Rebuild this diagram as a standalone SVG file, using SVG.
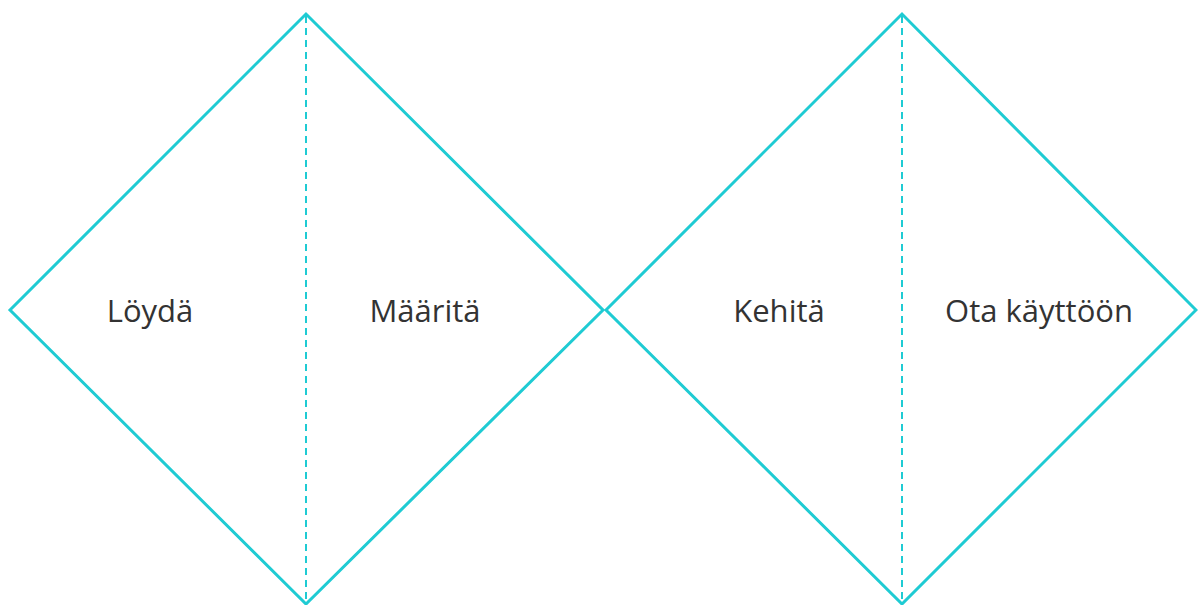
<svg xmlns="http://www.w3.org/2000/svg" width="1198" height="605" viewBox="0 0 1198 605">
<style>
.d{fill:none;stroke:#1fcbd3;stroke-width:3;stroke-linejoin:miter}
.m{stroke:#1fcbd3;stroke-width:2;stroke-dasharray:7 5}
.t{font-family:"Open Sans",sans-serif;font-size:31px;fill:#333;text-anchor:middle}
</style>
<rect width="1198" height="605" fill="#fff"/>
<g id="diamond1">
<polygon class="d" points="10,310 306,14 603,310 306,604"/>
<line class="m" x1="306" y1="16" x2="306" y2="602"/>
</g>
<g id="diamond2">
<polygon class="d" points="606,310 902,14 1196,310 902,604"/>
<line class="m" x1="902" y1="16" x2="902" y2="602"/>
</g>
<g id="loyda"><text class="t" x="150" y="322">Löydä</text></g>
<g id="maarita"><text class="t" x="425" y="322">Määritä</text></g>
<g id="kehita"><text class="t" x="779" y="322">Kehitä</text></g>
<g id="ota"><text class="t" x="1039" y="322">Ota käyttöön</text></g>
<g id="connectors"></g>
</svg>
